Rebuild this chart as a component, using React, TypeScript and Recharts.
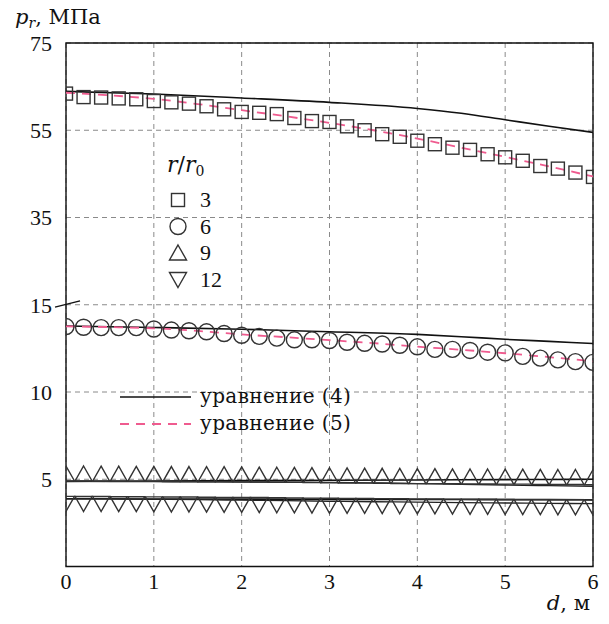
import React from 'react';
import { ComposedChart, Line, Scatter, XAxis, YAxis, CartesianGrid, ReferenceLine, ReferenceArea } from 'recharts';

// distances d, m (marker positions)
const dMarkers = [0, 0.2, 0.4, 0.6, 0.8, 1.0, 1.2, 1.4, 1.6, 1.8, 2.0, 2.2, 2.4, 2.6, 2.8, 3.0, 3.2, 3.4, 3.6, 3.8, 4.0, 4.2, 4.4, 4.6, 4.8, 5.0, 5.2, 5.4, 5.6, 5.8, 6.0];

// markers, MPa
const mk3 = [63.4, 62.6, 62.5, 62.3, 62.1, 61.7, 61.4, 61.1, 60.5, 59.8, 59.2, 59.0, 58.7, 57.8, 57.1, 56.9, 55.9, 55.0, 54.1, 53.5, 52.6, 51.8, 51.0, 50.5, 49.5, 48.8, 48.0, 46.8, 46.2, 45.3, 44.3];
const mk6 = [13.75, 13.71, 13.69, 13.69, 13.69, 13.61, 13.55, 13.51, 13.45, 13.35, 13.25, 13.19, 13.09, 12.99, 12.99, 12.95, 12.85, 12.79, 12.75, 12.68, 12.59, 12.44, 12.44, 12.38, 12.28, 12.24, 12.04, 11.94, 11.84, 11.74, 11.70];
const mk9 = [5.30, 5.30, 5.29, 5.29, 5.28, 5.28, 5.27, 5.27, 5.26, 5.26, 5.25, 5.24, 5.23, 5.22, 5.21, 5.20, 5.19, 5.18, 5.17, 5.16, 5.15, 5.15, 5.14, 5.13, 5.13, 5.12, 5.12, 5.11, 5.10, 5.10, 5.09];
const mk12 = [3.62, 3.61, 3.61, 3.60, 3.60, 3.59, 3.58, 3.58, 3.57, 3.56, 3.56, 3.55, 3.54, 3.53, 3.52, 3.51, 3.50, 3.50, 3.49, 3.48, 3.47, 3.47, 3.46, 3.45, 3.45, 3.44, 3.43, 3.43, 3.42, 3.42, 3.41];

// equation (4) curves
const dEq4 = [0, 1, 2, 3, 4, 4.5, 5, 5.5, 6];
const eq4_3 = [63.9, 63.3, 62.4, 61.4, 60.0, 58.9, 57.4, 55.9, 54.5];
const eq4_6 = [13.78, 13.70, 13.60, 13.45, 13.30, 13.17, 13.02, 12.90, 12.78];
const eq4_9 = [4.88, 4.90, 4.92, 4.94, 4.96, 4.97, 4.98, 4.99, 5.0];
const eq4_12 = [3.88, 3.87, 3.86, 3.85, 3.84, 3.84, 3.83, 3.83, 3.82];

// equation (5) curves
const dEq5 = [0, 0.5, 1, 1.5, 2, 2.5, 3, 3.5, 4, 4.5, 5, 5.5, 6];
const eq5_3 = [63.6, 63.0, 62.2, 61.0, 59.6, 58.2, 56.7, 55.0, 53.1, 51.0, 48.9, 46.7, 44.4];
const eq5_6 = [13.76, 13.72, 13.65, 13.5, 13.3, 13.14, 12.97, 12.8, 12.6, 12.42, 12.22, 12.0, 11.76];
const eq5_9 = [4.88, 4.87, 4.86, 4.85, 4.84, 4.83, 4.82, 4.79, 4.75, 4.71, 4.67, 4.63, 4.60];
const eq5_12 = [3.88, 3.87, 3.85, 3.83, 3.80, 3.77, 3.74, 3.71, 3.69, 3.66, 3.64, 3.62, 3.60];

const xTicks = [0, 1, 2, 3, 4, 5, 6];
const yTickValues = [5, 10, 15, 35, 55, 75];
const legendValues = ['3', '6', '9', '12'];

// broken axis: 0..15 linear, above 15 compressed by 4
const brk = (v: number) => (v <= 15 ? v : 15 + (v - 15) / 4);
const pts = (xs: number[], ys: number[]) => xs.map((d, i) => ({ d, y: brk(ys[i]) }));

const FONT = '"Liberation Serif", "DejaVu Serif", serif';
const WFONT = '"DejaVu Serif", "Liberation Serif", serif';
const PINK = '#ef5b8f';
const MK = '#333';

const SquareShape = (p: any) => (
  <rect x={p.cx - 6.5} y={p.cy - 6.5} width={13} height={13} fill="none" stroke={MK} strokeWidth={1.4} />
);
const CircleShape = (p: any) => (
  <circle cx={p.cx} cy={p.cy} r={8} fill="none" stroke={MK} strokeWidth={1.4} />
);
const UpShape = (p: any) => (
  <path d={`M${p.cx},${p.cy - 8} L${p.cx + 8.5},${p.cy + 7} L${p.cx - 8.5},${p.cy + 7} Z`} fill="none" stroke={MK} strokeWidth={1.4} />
);
const DownShape = (p: any) => (
  <path d={`M${p.cx},${p.cy + 8} L${p.cx + 8.5},${p.cy - 7} L${p.cx - 8.5},${p.cy - 7} Z`} fill="none" stroke={MK} strokeWidth={1.4} />
);

const yFmt = (t: number) => {
  const v = t <= 15 ? t : 15 + (t - 15) * 4;
  return String(Math.round(v));
};

export default function App() {
  const shapes = [SquareShape, CircleShape, UpShape, DownShape];
  const markers = [mk3, mk6, mk9, mk12];
  const eq4 = [eq4_3, eq4_6, eq4_9, eq4_12];
  const eq5 = [eq5_3, eq5_6, eq5_9, eq5_12];
  return (
    <div style={{ position: 'absolute', left: 0, top: 0, width: 609, height: 624, background: '#fff' }}>
      <ComposedChart width={609} height={624} margin={{ top: 43, right: 16, bottom: 27.5, left: 0 }}>
        <CartesianGrid stroke="#8a8a8a" strokeDasharray="5 4" strokeWidth={1} />
        <XAxis
          dataKey="d"
          type="number"
          domain={[0, 6]}
          ticks={xTicks}
          axisLine={false}
          tickLine={false}
          tickMargin={1}
          height={30}
          tick={{ fill: '#111', fontSize: 22, fontFamily: FONT }}
          allowDataOverflow
        />
        <YAxis
          dataKey="y"
          type="number"
          domain={[0, 30]}
          ticks={yTickValues.map(brk)}
          tickFormatter={yFmt}
          axisLine={false}
          tickLine={false}
          tickMargin={8}
          width={66}
          tick={{ fill: '#111', fontSize: 22, fontFamily: FONT }}
          allowDataOverflow
        />
        <ReferenceArea x1={0} x2={6} y1={0} y2={30} fill="none" stroke="#111" strokeWidth={1.4} ifOverflow="visible" />
        <ReferenceLine
          segment={[{ x: -0.125, y: 14.86 }, { x: 0.16, y: 15.22 }]}
          stroke="#111"
          strokeWidth={1.4}
          ifOverflow="visible"
        />
        {markers.map((m, i) => (
          <Scatter
            key={'m' + i}
            data={pts(dMarkers, m)}
            dataKey="y"
            shape={shapes[i]}
            isAnimationActive={false}
          />
        ))}
        {eq4.map((e, i) => (
          <Line
            key={'a' + i}
            data={pts(dEq4, e)}
            dataKey="y"
            type="monotone"
            stroke="#111"
            strokeWidth={1.6}
            dot={false}
            activeDot={false}
            isAnimationActive={false}
          />
        ))}
        {eq5.map((e, i) => (
          <Line
            key={'b' + i}
            data={pts(dEq5, e)}
            dataKey="y"
            type="monotone"
            stroke={i < 2 ? PINK : '#222'}
            strokeWidth={i < 2 ? 1.8 : 1.3}
            strokeDasharray={i < 2 ? '9 7' : undefined}
            dot={false}
            activeDot={false}
            isAnimationActive={false}
          />
        ))}
      </ComposedChart>
      <svg width={609} height={624} style={{ position: 'absolute', left: 0, top: 0, pointerEvents: 'none' }}>
        <text x={15} y={24} fontFamily={WFONT} fontSize={21} fill="#111">
          <tspan fontStyle="italic">p</tspan>
          <tspan fontStyle="italic" fontSize={14} dy={4}>r</tspan>
          <tspan dy={-4}>, МПа</tspan>
        </text>
        <text x={590} y={610} textAnchor="end" fontFamily={WFONT} fontSize={21} fill="#111">
          <tspan fontStyle="italic">d</tspan>
          <tspan>, м</tspan>
        </text>
        <text x={167} y={172} fontFamily={WFONT} fontSize={22} fill="#111">
          <tspan fontStyle="italic">r</tspan>
          <tspan>/</tspan>
          <tspan fontStyle="italic">r</tspan>
          <tspan fontSize={14} dy={4}>0</tspan>
        </text>
        {legendValues.map((lbl, i) => {
          const cy = [200, 226.5, 253, 279.5][i];
          const S = shapes[i];
          return (
            <g key={lbl}>
              <S cx={178} cy={cy} />
              <text x={200} y={cy + 7} fontFamily={FONT} fontSize={22} fill="#111">{lbl}</text>
            </g>
          );
        })}
        <line x1={120} y1={397} x2={191} y2={397} stroke="#111" strokeWidth={1.6} />
        <text x={200} y={403} fontFamily={WFONT} fontSize={20} letterSpacing={0.4} fill="#111">уравнение (4)</text>
        <line x1={120} y1={424} x2={191} y2={424} stroke={PINK} strokeWidth={1.8} strokeDasharray="9 7" />
        <text x={200} y={430} fontFamily={WFONT} fontSize={20} letterSpacing={0.4} fill="#111">уравнение (5)</text>
      </svg>
    </div>
  );
}
